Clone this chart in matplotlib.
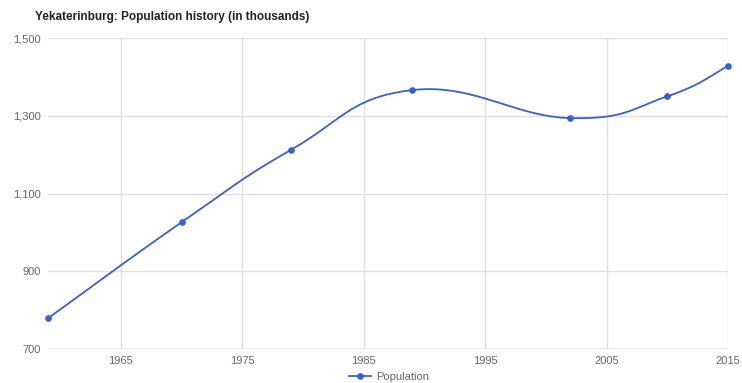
import numpy as np
import matplotlib
matplotlib.use('Agg')
import matplotlib.pyplot as plt
from matplotlib.lines import Line2D

years = [1959, 1970, 1979, 1989, 2002, 2010, 2015]
population = [779, 1026, 1212, 1366, 1294, 1350, 1428]
x_ticks = [1965, 1975, 1985, 1995, 2005, 2015]
y_ticks = [700, 900, 1100, 1300, 1500]

plt.rcParams['font.family'] = ['Liberation Sans', 'DejaVu Sans']

BLUE = '#3a62c4'
GRID = '#e0e0e0'
TEXT = '#666666'


def smooth_path(xs, ys, k=0.22, n=40):
    # bezier with control points from neighbours (like a "function" curve)
    xs = np.asarray(xs, float)
    ys = np.asarray(ys, float)
    px, py = [], []
    for i in range(len(xs) - 1):
        x0, y0 = xs[max(i - 1, 0)], ys[max(i - 1, 0)]
        x1, y1 = xs[i], ys[i]
        x2, y2 = xs[i + 1], ys[i + 1]
        x3, y3 = xs[min(i + 2, len(xs) - 1)], ys[min(i + 2, len(xs) - 1)]
        c1x, c1y = x1 + (x2 - x0) * k, y1 + (y2 - y0) * k
        c2x, c2y = x2 - (x3 - x1) * k, y2 - (y3 - y1) * k
        t = np.linspace(0, 1, n)
        px.extend((1 - t) ** 3 * x1 + 3 * (1 - t) ** 2 * t * c1x + 3 * (1 - t) * t ** 2 * c2x + t ** 3 * x2)
        py.extend((1 - t) ** 3 * y1 + 3 * (1 - t) ** 2 * t * c1y + 3 * (1 - t) * t ** 2 * c2y + t ** 3 * y2)
    return px, py


fig = plt.figure(figsize=(7.42, 3.83), dpi=100)
ax = fig.add_axes([48 / 742, 1 - 349 / 383, (728 - 48) / 742, (349 - 38) / 383])

sx, sy = smooth_path(years, population)
ax.plot(sx, sy, color=BLUE, linewidth=1.3, zorder=3, clip_on=False)
ax.plot(years, population, 'o', color=BLUE, markersize=3.8, zorder=4, clip_on=False)

ax.set_xlim(1959, 2015)
ax.set_ylim(700, 1500)
ax.set_xticks(x_ticks)
ax.set_yticks(y_ticks)
ax.set_yticklabels(['{:,}'.format(v) for v in y_ticks])
ax.grid(True, color=GRID, linewidth=1)
ax.set_axisbelow(True)
for s in ax.spines.values():
    s.set_visible(False)
ax.axhline(700, color='#c4c4c4', linewidth=1, zorder=1)
ax.tick_params(length=0, labelsize=8, colors=TEXT, pad=5)

fig.text(35 / 742, 1 - 17 / 383, 'Yekaterinburg: Population history (in thousands)',
         fontsize=8.5, fontweight='bold', color='#222222', va='center', ha='left')

handle = Line2D([], [], color=BLUE, linewidth=1.3, marker='o', markersize=3.8)
fig.legend([handle], ['Population'], loc='center', bbox_to_anchor=(389 / 742, 1 - 377 / 383),
           frameon=False, fontsize=8, labelcolor=TEXT, handlelength=2, handletextpad=0.4,
           borderpad=0)

fig.savefig('out.png', dpi=100)
